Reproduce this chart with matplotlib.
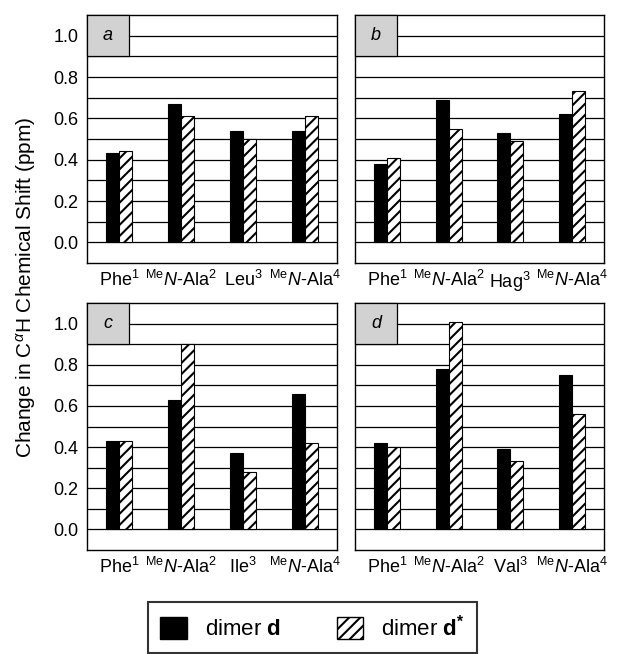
import numpy as np
import matplotlib
matplotlib.use('Agg')
import matplotlib.pyplot as plt
from matplotlib.patches import Rectangle, Patch

plt.rcParams['font.family'] = ['Liberation Sans', 'DejaVu Sans']
plt.rcParams['mathtext.fontset'] = 'custom'
plt.rcParams['mathtext.rm'] = 'Liberation Sans'
plt.rcParams['mathtext.it'] = 'Liberation Sans:italic'
plt.rcParams['mathtext.bf'] = 'Liberation Sans:bold'
plt.rcParams['hatch.linewidth'] = 1.5

# data (change in C-alpha H shift, ppm)
panel_letters = ['a', 'b', 'c', 'd']
third_residue = ['Leu', 'Hag', 'Ile', 'Val']

dimer_d_a = [0.43, 0.67, 0.54, 0.54]
dimer_ds_a = [0.44, 0.61, 0.50, 0.61]
dimer_d_b = [0.38, 0.69, 0.53, 0.62]
dimer_ds_b = [0.41, 0.55, 0.49, 0.73]
dimer_d_c = [0.43, 0.63, 0.37, 0.66]
dimer_ds_c = [0.43, 0.90, 0.28, 0.42]
dimer_d_d = [0.42, 0.78, 0.39, 0.75]
dimer_ds_d = [0.40, 1.01, 0.33, 0.56]

yticks = [0.0, 0.2, 0.4, 0.6, 0.8, 1.0]
grid_vals = np.round(np.arange(0.0, 1.01, 0.1), 1)

dimer_d = [dimer_d_a, dimer_d_b, dimer_d_c, dimer_d_d]
dimer_ds = [dimer_ds_a, dimer_ds_b, dimer_ds_c, dimer_ds_d]

fig = plt.figure(figsize=(6.24, 6.54), dpi=100)

W, H = 624, 654
boxes = [(87, 15, 337, 263), (355, 15, 604, 263),
         (87, 303, 337, 550), (355, 303, 604, 550)]

x = np.arange(4)
bw = 0.21

for i, (x0, y0, x1, y1) in enumerate(boxes):
    ax = fig.add_axes([x0 / W, 1 - y1 / H, (x1 - x0) / W, (y1 - y0) / H])
    ax.set_xlim(-0.52, 3.52)
    ax.set_ylim(-0.1, 1.1)
    for g in grid_vals:
        ax.axhline(g, color='black', lw=0.9, zorder=1)
    ax.bar(x - bw / 2, dimer_d[i], bw, color='black', edgecolor='black',
           lw=0.8, zorder=3)
    ax.bar(x + bw / 2, dimer_ds[i], bw, color='white', edgecolor='black',
           hatch='///', lw=0.8, zorder=3)
    # shaded panel label box
    ax.add_patch(Rectangle((0, 0.9), 0.168, 0.2, transform=ax.get_yaxis_transform(),
                           facecolor='#d2d2d2', edgecolor='black', lw=0.9, zorder=4,
                           clip_on=False))
    ax.text(0.084, 1.0, panel_letters[i], transform=ax.get_yaxis_transform(),
            ha='center', va='center', style='italic', fontsize=13, zorder=5)
    labels = ['Phe$^1$', r'$^{\mathrm{Me}}\mathit{N}$-Ala$^2$',
              third_residue[i] + '$^3$', r'$^{\mathrm{Me}}\mathit{N}$-Ala$^4$']
    ax.set_xticks(x)
    ax.set_xticklabels(labels, fontsize=13)
    ax.tick_params(axis='x', length=0, pad=5)
    if i % 2 == 0:
        ax.set_yticks(yticks)
        ax.set_yticklabels([f'{v:.1f}' for v in yticks], fontsize=13)
        ax.tick_params(axis='y', length=0, pad=6)
    else:
        ax.set_yticks([])
    for s in ax.spines.values():
        s.set_linewidth(1.0)

fig.text(26 / W, 1 - 287 / H, r'Change in C$^{\alpha}$H Chemical Shift (ppm)',
         rotation=90, ha='center', va='center', fontsize=15)

handles = [Patch(facecolor='black', edgecolor='black'),
           Patch(facecolor='white', edgecolor='black', hatch='///')]
leg = fig.legend(handles, [r'dimer $\mathbf{d}$', r'dimer $\mathbf{d^{*}}$'],
                 loc='center', bbox_to_anchor=(148 / W, 1 - 653 / H, 329 / W, 51 / H),
                 mode='expand', borderaxespad=0, ncol=2, fontsize=16, frameon=True,
                 fancybox=False, handlelength=1.2, handleheight=1.2, borderpad=0.55,
                 columnspacing=2.0, handletextpad=0.8)
leg.get_frame().set_edgecolor('black')
leg.get_frame().set_linewidth(1.5)

fig.savefig('out.png', dpi=100)
